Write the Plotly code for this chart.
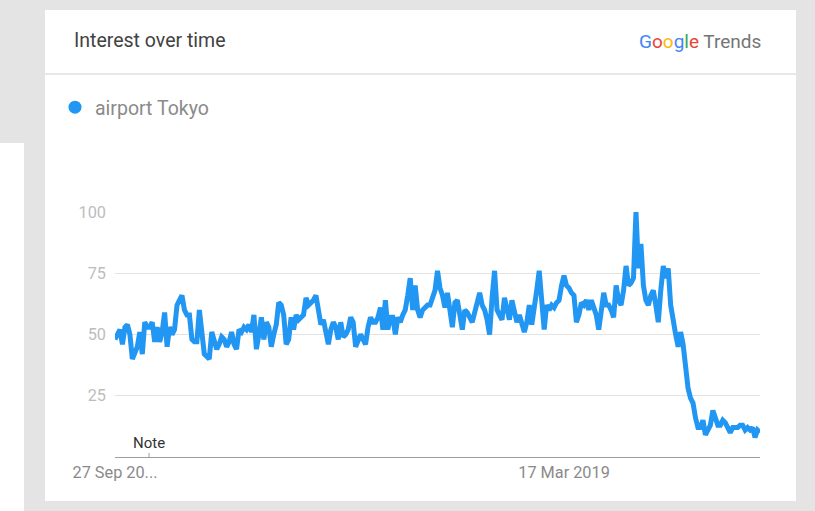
import pandas as pd
import plotly.graph_objects as go

# Weekly search interest, "airport Tokyo", starting 27 Sep 2015
start_date = "2015-09-27"
interest = [
    48, 50, 52, 46, 53, 54, 50, 40, 43, 45, 51, 42, 55, 53, 53, 55, 47, 53, 47, 51,
    59, 45, 53, 50, 52, 62, 64, 66, 60, 58, 58, 48, 47, 47, 60, 50, 42, 41, 40, 51,
    47, 44, 46, 49, 48, 45, 47, 51, 46, 44, 52, 51, 53, 52, 54, 51, 58, 44, 50, 57,
    48, 55, 53, 45, 50, 54, 63, 62, 58, 46, 48, 57, 52, 58, 56, 57, 58, 65, 62, 63,
    64, 66, 60, 54, 56, 50, 46, 52, 55, 53, 48, 55, 49, 50, 52, 57, 55, 45, 47, 50,
    48, 46, 53, 57, 55, 55, 57, 61, 52, 64, 52, 57, 57, 50, 57, 55, 58, 60, 66, 73,
    60, 70, 60, 57, 60, 61, 62, 62, 65, 68, 76, 69, 66, 61, 67, 58, 53, 63, 64, 58,
    52, 60, 59, 57, 55, 59, 64, 67, 62, 60, 56, 50, 65, 76, 60, 58, 56, 65, 60, 56,
    64, 58, 55, 58, 55, 51, 55, 62, 54, 60, 68, 76, 60, 52, 62, 60, 62, 61, 63, 64,
    70, 74, 70, 69, 67, 66, 55, 58, 63, 62, 64, 60, 64, 61, 58, 52, 60, 67, 62, 62,
    60, 57, 70, 64, 62, 68, 78, 70, 71, 73, 100, 77, 87, 70, 64, 62, 66, 68, 62, 55,
    68, 78, 73, 77, 62, 54, 50, 45, 51, 46, 37, 28, 24, 22, 16, 12, 12, 15, 9, 11,
    13, 19, 15, 13, 13, 15, 14, 12, 10, 12, 12, 12, 13, 13, 11, 12, 11, 12, 8, 11,
    10,
]
dates = pd.date_range(start_date, periods=len(interest), freq="7D")

series_name = "airport Tokyo"
y_ticks = [25, 50, 75, 100]
x_tick_dates = [dates[0], pd.Timestamp("2019-03-17")]
x_tick_text = ["27 Sep 20...", "17 Mar 2019"]
note_date = pd.Timestamp("2016-01-01")

BLUE = "#2196f3"
FONT = "Roboto"

# Pixel geometry helpers (plot area: x 115..760, y 212..457 in a 815x511 page)
W, H = 815, 511
L, R, T, B = 115, 760, 212, 457


def px(X):
    return (X - L) / (R - L)


def py(Y):
    return (B - Y) / (B - T)


fig = go.Figure()
fig.add_trace(go.Scatter(
    x=dates, y=interest, mode="lines",
    line=dict(color=BLUE, width=5),
    showlegend=False, hoverinfo="x+y",
))
# legend proxy (dot)
fig.add_trace(go.Scatter(
    x=[None], y=[None], mode="markers", name=series_name,
    marker=dict(color=BLUE, size=13),
))

shapes = [
    # white card
    dict(type="rect", xref="paper", yref="paper", x0=px(45), x1=px(796), y0=py(501), y1=py(10),
         fillcolor="white", line=dict(width=0), layer="below"),
    # left white panel
    dict(type="rect", xref="paper", yref="paper", x0=px(0), x1=px(24), y0=py(520), y1=py(143),
         fillcolor="white", line=dict(width=0), layer="below"),
    # header separator
    dict(type="line", xref="paper", yref="paper", x0=px(45), x1=px(796), y0=py(74), y1=py(74),
         line=dict(color="#e0e0e0", width=1.5)),
    # note tick
    dict(type="line", xref="x", yref="paper", x0=note_date, x1=note_date, y0=0, y1=py(453),
         line=dict(color="#9e9e9e", width=1)),
]

google = ('<span style="color:#4285f4">G</span><span style="color:#ea4335">o</span>'
          '<span style="color:#fbbc05">o</span><span style="color:#4285f4">g</span>'
          '<span style="color:#34a853">l</span><span style="color:#ea4335">e</span>'
          '<span style="color:#757575"> Trends</span>')

annotations = [
    dict(text="Interest over time", xref="paper", yref="paper", x=px(72), y=py(40),
         xanchor="left", yanchor="middle", showarrow=False,
         font=dict(family=FONT, size=19.5, color="#424242")),
    dict(text=google, xref="paper", yref="paper", x=px(763), y=py(42),
         xanchor="right", yanchor="middle", showarrow=False,
         font=dict(family=FONT, size=19, color="#757575")),
    dict(text="Note", xref="x", yref="paper", x=note_date, y=py(443),
         xanchor="center", yanchor="middle", showarrow=False,
         font=dict(family=FONT, size=15, color="#333333")),
]

fig.update_layout(
    width=W, height=H,
    margin=dict(l=L, r=W - R, t=T, b=H - B, pad=0),
    paper_bgcolor="#e4e4e4",
    plot_bgcolor="white",
    font=dict(family=FONT),
    shapes=shapes,
    annotations=annotations,
    showlegend=True,
    legend=dict(x=px(55), y=py(88), xanchor="left", yanchor="top",
                bgcolor="rgba(0,0,0,0)", font=dict(family=FONT, size=19.5, color="#8a8a8a"),
                itemclick=False, itemdoubleclick=False),
    xaxis=dict(
        range=[dates[0], dates[-1]], type="date",
        tickvals=x_tick_dates, ticktext=x_tick_text,
        showgrid=False, zeroline=False,
        showline=True, linecolor="#9e9e9e", linewidth=1.2,
        ticks="", tickfont=dict(family=FONT, size=16.3, color="#8a8a8a"),
        fixedrange=True,
    ),
    yaxis=dict(
        range=[0, 100], tickvals=y_ticks,
        showgrid=True, gridcolor="#e3e3e3", gridwidth=1,
        zeroline=False, showline=False, ticks="",
        ticklabelstandoff=8,
        tickfont=dict(family=FONT, size=16.3, color="#bdbdbd"),
        fixedrange=True,
    ),
)

fig.write_html("out.html", config={"displayModeBar": False})
